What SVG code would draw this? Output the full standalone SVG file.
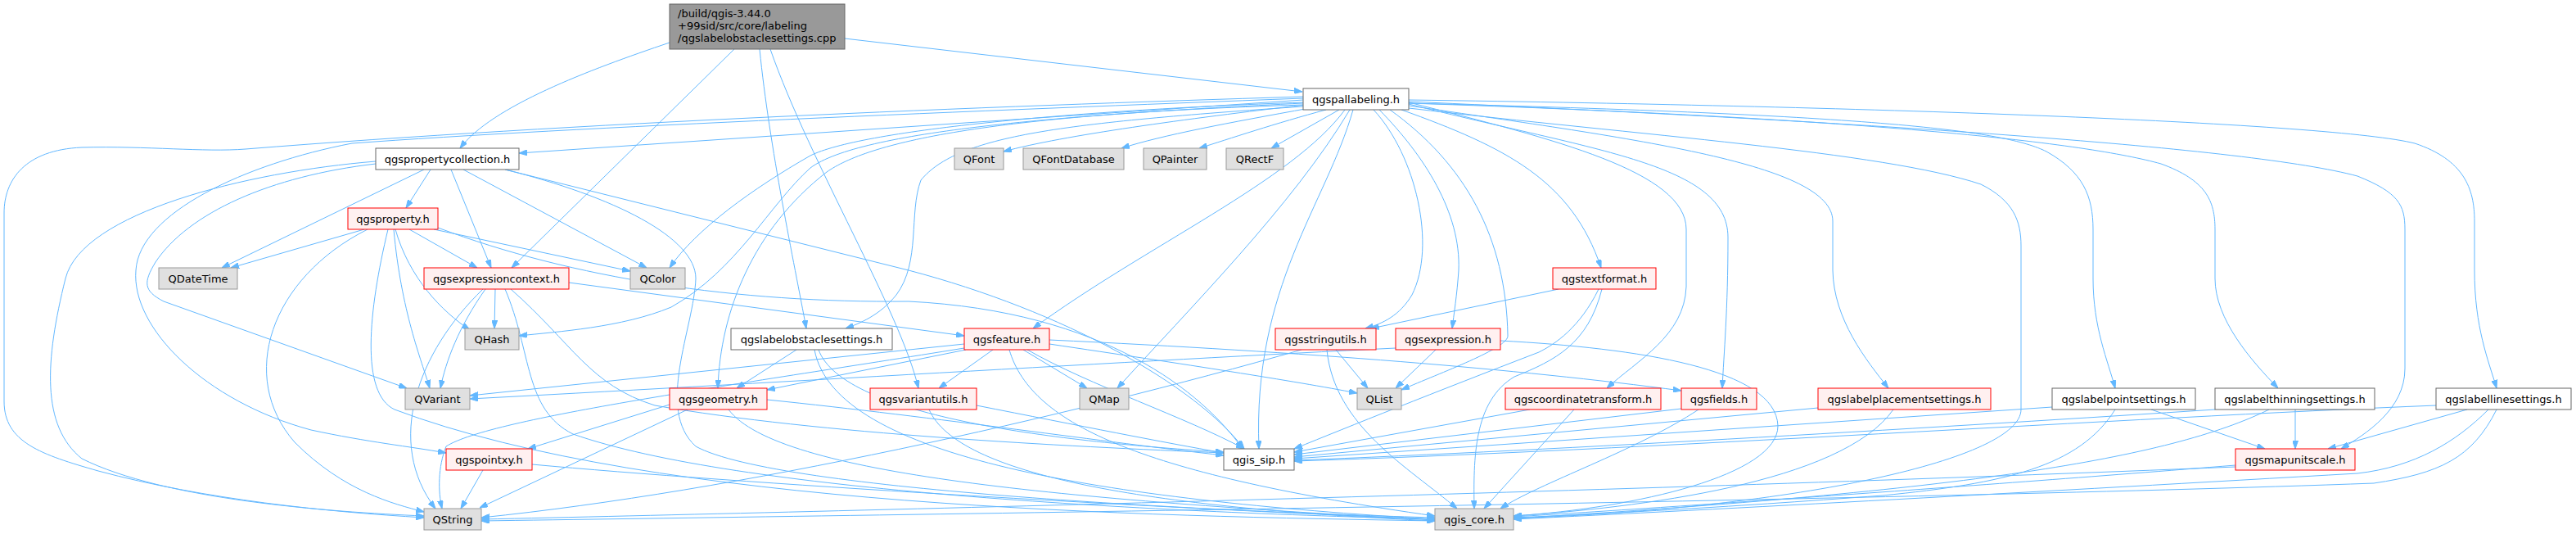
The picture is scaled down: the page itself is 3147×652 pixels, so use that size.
<svg xmlns="http://www.w3.org/2000/svg" width="3147" height="652" viewBox="0 0 3147 652">
<defs>
<marker id="a" markerWidth="10" markerHeight="7" refX="10" refY="3.5" orient="auto" markerUnits="userSpaceOnUse"><path d="M0,0 L10,3.5 L0,7 z" fill="#63b8ff" stroke="#63b8ff" stroke-width="1"/></marker>
<style>
.w{fill:#ffffff;stroke:#666666;stroke-width:1}
.g{fill:#e0e0e0;stroke:#999999;stroke-width:1}
.r{fill:#fff0f0;stroke:#ff0000;stroke-width:1}
.m{fill:#999999;stroke:#666666;stroke-width:1}
text{font-family:"DejaVu Sans","Liberation Sans",sans-serif;font-size:13px;fill:#000000;text-anchor:middle}
text.l{text-anchor:start}
#edges path{fill:none;stroke:#63b8ff;stroke-width:1;marker-end:url(#a)}
</style>
</defs>
<rect width="3147" height="652" fill="#ffffff"/>
<g id="edges">
<path d="M1032,47 L1591,112"/>
<path d="M818,52 C720,85 600,130 562,181"/>
<path d="M897,60 L625,327"/>
<path d="M928,60 C940,180 970,320 985,401"/>
<path d="M941,60 C990,200 1100,380 1122,474"/>
<path d="M1592,122 L634,187"/>
<path d="M1592,118 C1200,130 700,150 300,182 C250,186 180,178 100,180 C30,183 5,220 5,260 L5,490 C5,540 50,555 120,575 C250,610 400,625 518,632"/>
<path d="M1592,120 C1200,135 700,155 430,175 C300,200 170,260 166,330 C160,400 250,490 380,525 C450,540 500,545 545,553"/>
<path d="M1592,125 C1300,135 1050,160 990,190 C920,230 850,280 818,327"/>
<path d="M1592,126 C1300,140 1050,160 990,205 C940,250 900,330 820,375 C760,400 680,405 634,410"/>
<path d="M1592,128 C1200,140 1060,175 1010,210 C920,280 880,380 877,474"/>
<path d="M1592,130 C1300,150 1170,165 1125,220 C1110,260 1125,320 1095,360 C1075,385 1050,395 1033,401"/>
<path d="M1643,134 C1580,220 1400,300 1262,401"/>
<path d="M1649,134 C1580,250 1450,380 1365,474"/>
<path d="M1653,134 C1620,250 1530,350 1538,548"/>
<path d="M1594,128 C1450,145 1300,165 1226,185"/>
<path d="M1600,132 C1500,150 1420,165 1370,181"/>
<path d="M1620,134 C1560,150 1500,170 1465,181"/>
<path d="M1636,134 L1553,181"/>
<path d="M1678,134 C1730,190 1755,300 1725,360 C1710,385 1690,395 1668,401"/>
<path d="M1685,134 C1740,190 1785,260 1782,330 C1780,360 1776,385 1774,401"/>
<path d="M1698,134 C1790,200 1840,290 1842,410 C1843,425 1760,455 1712,476"/>
<path d="M1712,134 C1840,180 1920,220 1956,327"/>
<path d="M1721,125 C1900,170 2060,210 2060,280 L2060,350 C2058,410 2000,440 1963,474"/>
<path d="M1721,127 C1950,185 2111,200 2111,290 C2111,380 2106,430 2104,474"/>
<path d="M1721,129 C2000,170 2239,200 2239,270 L2239,330 C2240,390 2280,440 2307,474"/>
<path d="M1721,126 C2300,140 2450,160 2500,185 C2545,210 2557,240 2557,280 L2557,340 C2557,400 2575,440 2584,474"/>
<path d="M1721,126 C2300,145 2550,175 2640,200 C2695,220 2706,245 2706,280 L2706,340 C2706,390 2750,440 2783,474"/>
<path d="M1721,124 C2300,150 2750,180 2880,215 C2930,235 2938,250 2938,280 L2938,450 C2938,500 2890,530 2860,548"/>
<path d="M1721,122 C2300,130 2850,150 2950,175 C3010,195 3023,230 3023,270 L3023,330 C3023,400 3040,440 3050,474"/>
<path d="M1721,132 C2000,165 2300,185 2420,225 C2460,245 2469,270 2469,300 L2469,500 C2469,560 2200,620 1849,633"/>
<path d="M605,353 L604,401"/>
<path d="M593,353 C560,400 545,440 538,474"/>
<path d="M590,353 C510,430 470,540 532,621"/>
<path d="M617,353 C650,430 640,500 700,530 C900,600 1400,625 1753,634"/>
<path d="M624,353 C700,420 720,470 800,495 C1000,530 1300,545 1495,553"/>
<path d="M695,345 L1178,410"/>
<path d="M445,280 L282,327"/>
<path d="M449,280 C330,340 290,460 360,540 C420,600 480,615 518,625"/>
<path d="M474,280 C450,380 440,480 482,500 C800,620 1400,630 1753,636"/>
<path d="M481,280 C490,380 515,440 525,474"/>
<path d="M483,280 C500,340 540,380 574,403"/>
<path d="M500,280 L583,327"/>
<path d="M530,280 L770,331"/>
<path d="M535,278 C700,340 900,370 1110,368 C1350,380 1470,480 1518,548"/>
<path d="M526,207 L496,254"/>
<path d="M518,207 L271,327"/>
<path d="M551,207 L600,327"/>
<path d="M566,207 L790,327"/>
<path d="M459,197 C300,210 100,260 80,340 C55,440 50,520 100,560 C200,610 400,625 518,630"/>
<path d="M459,200 C330,215 230,260 190,320 C175,345 175,355 200,368 L497,474"/>
<path d="M617,207 L1110,330 C1300,380 1460,470 1520,548"/>
<path d="M617,207 C750,240 850,290 850,340 C848,400 800,500 850,545 C950,600 1500,625 1753,632"/>
<path d="M1178,420 L574,483"/>
<path d="M1178,425 C900,470 600,510 545,545 C535,570 535,600 540,621"/>
<path d="M1180,427 L937,476"/>
<path d="M1213,427 L1147,474"/>
<path d="M1250,427 L1328,474"/>
<path d="M1255,427 C1330,470 1450,510 1520,548"/>
<path d="M1233,427 C1260,520 1400,580 1753,630"/>
<path d="M1282,415 C1600,430 1850,450 2054,477"/>
<path d="M1282,420 C1450,445 1580,465 1658,480"/>
<path d="M840,500 L586,620"/>
<path d="M818,494 L645,548"/>
<path d="M890,500 C950,580 1300,610 1753,635"/>
<path d="M937,488 C1150,510 1350,540 1495,556"/>
<path d="M1193,495 C1320,520 1420,540 1495,553"/>
<path d="M1135,500 C1170,580 1400,620 1753,636"/>
<path d="M973,427 L900,474"/>
<path d="M1000,427 C1030,510 1300,540 1495,552"/>
<path d="M995,427 C1020,560 1350,610 1753,634"/>
<path d="M590,574 L563,621"/>
<path d="M650,567 C900,590 1400,620 1753,634"/>
<path d="M1904,353 L1675,401"/>
<path d="M1953,353 C1930,400 1900,420 1880,430 C1750,480 1650,520 1581,548"/>
<path d="M1957,353 C1940,420 1900,440 1850,460 C1800,490 1800,560 1801,621"/>
<path d="M1632,427 L1671,474"/>
<path d="M1621,427 C1630,520 1720,570 1780,621"/>
<path d="M1590,427 C1300,510 900,600 588,632"/>
<path d="M1754,427 L1705,474"/>
<path d="M1833,416 C2000,425 2170,450 2172,520 C2172,580 2000,620 1849,630"/>
<path d="M1705,425 C1400,440 900,470 574,487"/>
<path d="M1869,500 L1581,552"/>
<path d="M1923,500 L1813,621"/>
<path d="M2054,499 L1581,555"/>
<path d="M2075,500 C2000,550 1880,590 1833,621"/>
<path d="M2221,498 L1581,558"/>
<path d="M2313,500 C2250,590 2000,620 1849,630"/>
<path d="M2507,497 L1581,560"/>
<path d="M2628,500 L2767,548"/>
<path d="M2584,500 C2540,570 2450,590 2300,605 C2100,620 1950,628 1849,632"/>
<path d="M2706,500 C2400,520 1900,550 1581,562"/>
<path d="M2804,500 L2804,548"/>
<path d="M2772,500 C2650,560 2400,600 1849,633"/>
<path d="M2976,495 C2600,510 2000,550 1581,563"/>
<path d="M3014,500 L2844,548"/>
<path d="M3040,500 C3000,540 2950,570 2880,578 C2500,600 2100,622 1849,634"/>
<path d="M3050,500 C3020,560 2980,578 2900,590 C2300,612 1000,630 588,636"/>
<path d="M2731,568 C2400,595 2000,622 1849,631"/>
<path d="M2731,570 C2000,600 1000,625 588,634"/>
</g>
<g id="main"><rect class="m" x="818" y="5" width="214" height="55"/><text class="l" x="828" y="20.7">/build/qgis-3.44.0</text><text class="l" x="828" y="35.7">+99sid/src/core/labeling</text><text class="l" x="828" y="50.7">/qgslabelobstaclesettings.cpp</text></g>
<g id="qgspallabeling"><rect class="w" x="1592" y="108" width="129" height="26"/><text x="1656.5" y="125.5">qgspallabeling.h</text></g>
<g id="qgspropertycollection"><rect class="w" x="459" y="181" width="175" height="26"/><text x="546.5" y="198.5">qgspropertycollection.h</text></g>
<g id="QFont"><rect class="g" x="1166" y="181" width="60" height="26"/><text x="1196" y="198.5">QFont</text></g>
<g id="QFontDatabase"><rect class="g" x="1250" y="181" width="123" height="26"/><text x="1311.5" y="198.5">QFontDatabase</text></g>
<g id="QPainter"><rect class="g" x="1397" y="181" width="77" height="26"/><text x="1435.5" y="198.5">QPainter</text></g>
<g id="QRectF"><rect class="g" x="1498" y="181" width="70" height="26"/><text x="1533" y="198.5">QRectF</text></g>
<g id="qgsproperty"><rect class="r" x="425" y="254" width="110" height="26"/><text x="480" y="271.5">qgsproperty.h</text></g>
<g id="QDateTime"><rect class="g" x="194" y="327" width="96" height="26"/><text x="242" y="344.5">QDateTime</text></g>
<g id="qgsexpressioncontext"><rect class="r" x="518" y="327" width="177" height="26"/><text x="606.5" y="344.5">qgsexpressioncontext.h</text></g>
<g id="QColor"><rect class="g" x="770" y="327" width="67" height="26"/><text x="803.5" y="344.5">QColor</text></g>
<g id="qgstextformat"><rect class="r" x="1897" y="327" width="126" height="26"/><text x="1960" y="344.5">qgstextformat.h</text></g>
<g id="QHash"><rect class="g" x="568" y="401" width="66" height="26"/><text x="601" y="418.5">QHash</text></g>
<g id="qgslabelobstaclesettings"><rect class="w" x="893" y="401" width="197" height="26"/><text x="991.5" y="418.5">qgslabelobstaclesettings.h</text></g>
<g id="qgsfeature"><rect class="r" x="1178" y="401" width="104" height="26"/><text x="1230" y="418.5">qgsfeature.h</text></g>
<g id="qgsstringutils"><rect class="r" x="1558" y="401" width="123" height="26"/><text x="1619.5" y="418.5">qgsstringutils.h</text></g>
<g id="qgsexpression"><rect class="r" x="1705" y="401" width="128" height="26"/><text x="1769" y="418.5">qgsexpression.h</text></g>
<g id="QVariant"><rect class="g" x="495" y="474" width="79" height="26"/><text x="534.5" y="491.5">QVariant</text></g>
<g id="qgsgeometry"><rect class="r" x="818" y="474" width="119" height="26"/><text x="877.5" y="491.5">qgsgeometry.h</text></g>
<g id="qgsvariantutils"><rect class="r" x="1063" y="474" width="130" height="26"/><text x="1128" y="491.5">qgsvariantutils.h</text></g>
<g id="QMap"><rect class="g" x="1319" y="474" width="60" height="26"/><text x="1349" y="491.5">QMap</text></g>
<g id="QList"><rect class="g" x="1658" y="474" width="54" height="26"/><text x="1685" y="491.5">QList</text></g>
<g id="qgscoordinatetransform"><rect class="r" x="1839" y="474" width="190" height="26"/><text x="1934" y="491.5">qgscoordinatetransform.h</text></g>
<g id="qgsfields"><rect class="r" x="2054" y="474" width="92" height="26"/><text x="2100" y="491.5">qgsfields.h</text></g>
<g id="qgslabelplacementsettings"><rect class="r" x="2221" y="474" width="211" height="26"/><text x="2326.5" y="491.5">qgslabelplacementsettings.h</text></g>
<g id="qgslabelpointsettings"><rect class="w" x="2507" y="474" width="175" height="26"/><text x="2594.5" y="491.5">qgslabelpointsettings.h</text></g>
<g id="qgslabelthinningsettings"><rect class="w" x="2706" y="474" width="195" height="26"/><text x="2803.5" y="491.5">qgslabelthinningsettings.h</text></g>
<g id="qgslabellinesettings"><rect class="w" x="2976" y="474" width="165" height="26"/><text x="3058.5" y="491.5">qgslabellinesettings.h</text></g>
<g id="qgspointxy"><rect class="r" x="545" y="548" width="105" height="26"/><text x="597.5" y="565.5">qgspointxy.h</text></g>
<g id="qgis_sip"><rect class="w" x="1495" y="548" width="86" height="26"/><text x="1538" y="565.5">qgis_sip.h</text></g>
<g id="qgsmapunitscale"><rect class="r" x="2731" y="548" width="146" height="26"/><text x="2804" y="565.5">qgsmapunitscale.h</text></g>
<g id="QString"><rect class="g" x="518" y="621" width="70" height="26"/><text x="553" y="638.5">QString</text></g>
<g id="qgis_core"><rect class="g" x="1753" y="621" width="96" height="26"/><text x="1801" y="638.5">qgis_core.h</text></g>
</svg>
